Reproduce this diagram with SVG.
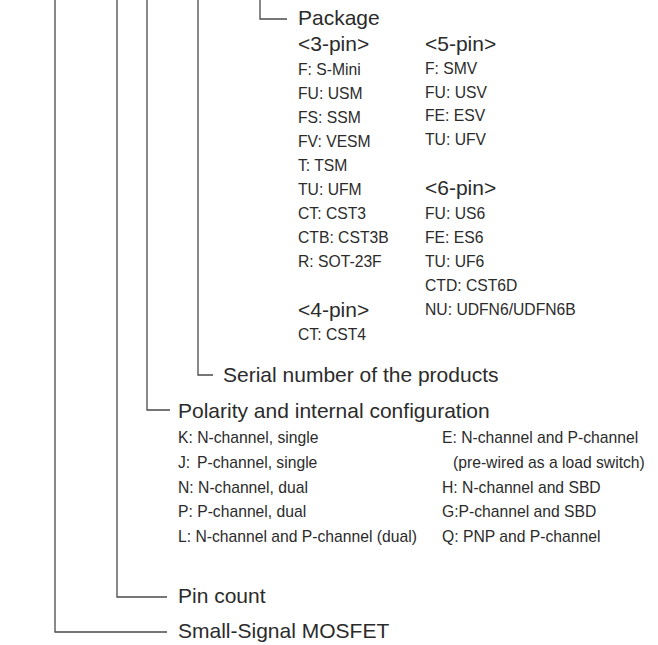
<svg xmlns="http://www.w3.org/2000/svg" width="658" height="645" viewBox="0 0 658 645">
<style>
text{font-family:"Liberation Sans",Arial,sans-serif;fill:#2b2b2b}
.big{font-size:21px}
.sm{font-size:15.7px}
.ln{fill:none;stroke:#4a4a4a;stroke-width:1.3}
</style>
<rect width="658" height="645" fill="#fff"/>
<g id="connectors">
<path class="ln" d="M55 0V632H167"/>
<path class="ln" d="M117 0V597H167"/>
<path class="ln" d="M147 0V410H170"/>
<path class="ln" d="M198 0V375H213"/>
<path class="ln" d="M260 0V19H287"/>
</g>
<g id="package">
<text class="big" x="298" y="25">Package</text>
<text class="big" x="298" y="51">&lt;3-pin&gt;</text>
<text class="sm" x="298" y="75">F: S-Mini</text>
<text class="sm" x="298" y="99">FU: USM</text>
<text class="sm" x="298" y="123">FS: SSM</text>
<text class="sm" x="298" y="147">FV: VESM</text>
<text class="sm" x="298" y="171">T: TSM</text>
<text class="sm" x="298" y="195">TU: UFM</text>
<text class="sm" x="298" y="219">CT: CST3</text>
<text class="sm" x="298" y="243">CTB: CST3B</text>
<text class="sm" x="298" y="267">R: SOT-23F</text>
<text class="big" x="298" y="317">&lt;4-pin&gt;</text>
<text class="sm" x="298" y="340">CT: CST4</text>
<text class="big" x="425" y="51">&lt;5-pin&gt;</text>
<text class="sm" x="425" y="74">F: SMV</text>
<text class="sm" x="425" y="98">FU: USV</text>
<text class="sm" x="425" y="121">FE: ESV</text>
<text class="sm" x="425" y="145">TU: UFV</text>
<text class="big" x="425" y="195">&lt;6-pin&gt;</text>
<text class="sm" x="425" y="219">FU: US6</text>
<text class="sm" x="425" y="243">FE: ES6</text>
<text class="sm" x="425" y="267">TU: UF6</text>
<text class="sm" x="425" y="291">CTD: CST6D</text>
<text class="sm" x="425" y="315">NU: UDFN6/UDFN6B</text>
</g>
<g id="serial">
<text class="big" x="223" y="382">Serial number of the products</text>
</g>
<g id="polarity">
<text class="big" x="178" y="418">Polarity and internal configuration</text>
<text class="sm" x="178" y="443">K: N-channel, single</text>
<text class="sm" x="178" y="468">J: <tspan x="197">P-channel, single</tspan></text>
<text class="sm" x="178" y="493">N: N-channel, dual</text>
<text class="sm" x="178" y="517">P: P-channel, dual</text>
<text class="sm" x="178" y="542">L: N-channel and P-channel (dual)</text>
<text class="sm" x="442" y="443">E: N-channel and P-channel</text>
<text class="sm" x="453" y="468">(pre-wired as a load switch)</text>
<text class="sm" x="442" y="493">H: N-channel and SBD</text>
<text class="sm" x="442" y="517">G:P-channel and SBD</text>
<text class="sm" x="442" y="542">Q: PNP and P-channel</text>
</g>
<g id="pincount">
<text class="big" x="178" y="603">Pin count</text>
</g>
<g id="mosfet">
<text class="big" x="178" y="638">Small-Signal MOSFET</text>
</g>
</svg>
